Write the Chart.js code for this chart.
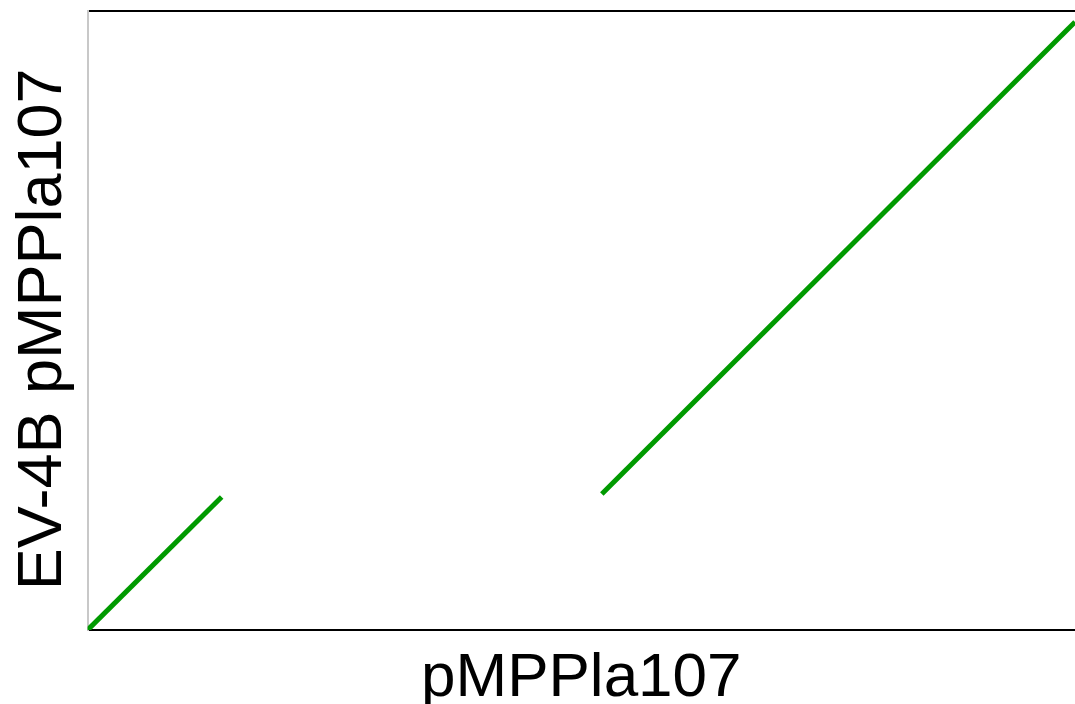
<!DOCTYPE html>
<html>
<head>
<meta charset="utf-8">
<script src="https://cdn.jsdelivr.net/npm/chart.js@4.4.1/dist/chart.umd.min.js"></script>
<style>
  html, body { margin: 0; padding: 0; background: #fff; }
  #wrap { width: 1075px; height: 704px; }
</style>
</head>
<body>
<div id="wrap"><canvas id="dotplot"></canvas></div>
<script>
// positions along each plasmid (same units on both axes)
var queryLength = 987;
var subjectLength = 619;
var xTitle = 'pMPPla107';
var yTitle = 'EV-4B pMPPla107 ';

// matching blocks: start/end on query (x) and subject (y)
var blockX = [[0, 134], [514, 987]];
var blockY = [[0, 133], [136, 608]];

var green = '#009a00';

var datasets = blockX.map(function(bx, i) {
    return {
        data: [{x: bx[0], y: blockY[i][0]}, {x: bx[1], y: blockY[i][1]}],
        borderColor: green,
        borderWidth: 5,
        borderCapStyle: 'butt',
        pointRadius: 0,
        fill: false
    };
});

var ctx = document.getElementById('dotplot').getContext('2d');
var chart = new Chart(ctx, {
    type: 'line',
    data: { datasets: datasets },
    options: {
        responsive: true,
        maintainAspectRatio: false,
        animation: false,
        layout: { padding: { top: 11, right: 0, left: 0, bottom: 0 } },
        plugins: { legend: { display: false }, tooltip: { enabled: false } },
        scales: {
            x: {
                type: 'linear',
                min: 0,
                max: queryLength,
                ticks: { display: false },
                grid: { display: false, drawTicks: false },
                border: { color: '#000', width: 2 },
                title: {
                    display: true,
                    text: xTitle,
                    color: '#000',
                    font: { family: 'Liberation Sans, Arial, sans-serif', size: 62 },
                    padding: { top: 11.6, bottom: -12 }
                }
            },
            xTop: {
                type: 'linear',
                position: 'top',
                min: 0,
                max: queryLength,
                ticks: { display: false },
                grid: { display: false, drawTicks: false },
                border: { color: '#000', width: 2 }
            },
            y: {
                type: 'linear',
                min: 0,
                max: subjectLength,
                ticks: { display: false },
                grid: { display: false, drawTicks: false },
                border: { color: '#c8c8c8', width: 2 },
                title: {
                    display: true,
                    text: yTitle,
                    color: '#000',
                    font: { family: 'Liberation Sans, Arial, sans-serif', size: 63 },
                    padding: { top: 6, bottom: 6 }
                }
            }
        }
    }
});
</script>
</body>
</html>
